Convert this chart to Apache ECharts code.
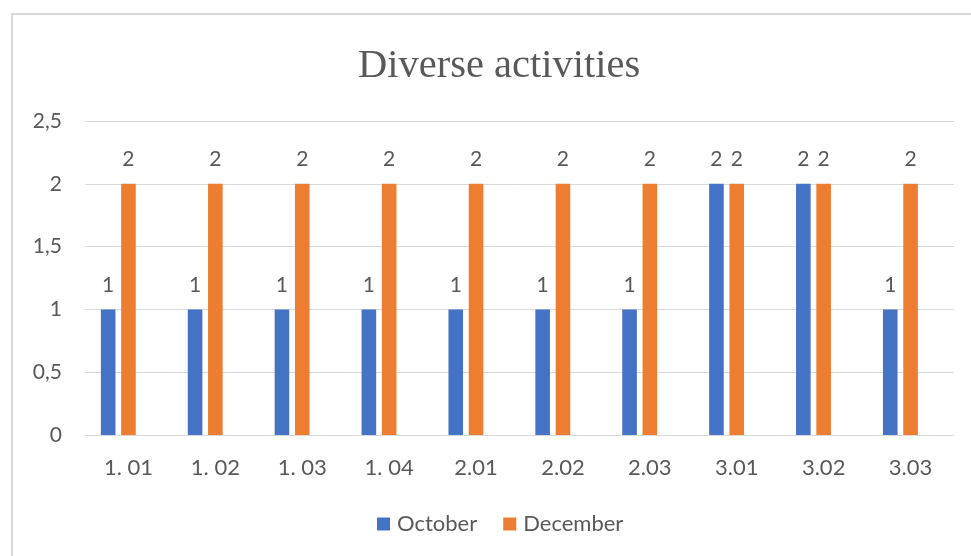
<!DOCTYPE html>
<html>
<head>
<meta charset="utf-8">
<script src="https://cdn.jsdelivr.net/npm/echarts@6/dist/echarts.min.js"></script>
<style>
html,body{margin:0;padding:0;background:#fff;}
#chart{width:971px;height:556px;}
</style>
</head>
<body>
<div id="chart"></div>
<script>
const categories = ["1. 01", "1. 02", "1. 03", "1. 04", "2.01", "2.02", "2.03", "3.01", "3.02", "3.03"];
const october = [1, 1, 1, 1, 1, 1, 1, 2, 2, 1];
const december = [2, 2, 2, 2, 2, 2, 2, 2, 2, 2];
const hiddenSeries = ["-", "-", "-", "-", "-", "-", "-", "-", "-", "-"];
const seriesNames = ["October", "December"];
const yTicks = [0, 0.5, 1, 1.5, 2, 2.5];

const textColor = "#595959";
const sans = "Lato";
const chart = echarts.init(document.getElementById("chart"));

const labelCfg = {
  show: true,
  position: "top",
  distance: 14,
  color: textColor,
  fontFamily: sans,
  fontSize: 21
};

chart.setOption({
  animation: false,
  backgroundColor: "#ffffff",
  graphic: [{
    type: "rect",
    silent: true,
    shape: { x: 12, y: 14, width: 1000, height: 600 },
    style: { fill: "none", stroke: "#d9d9d9", lineWidth: 2 }
  }],
  title: {
    text: "Diverse activities",
    left: 353,
    top: 41,
    textStyle: {
      fontFamily: "Liberation Serif",
      fontWeight: "normal",
      fontSize: 40.5,
      color: textColor
    }
  },
  legend: {
    data: seriesNames,
    bottom: 16,
    left: 372,
    itemWidth: 13,
    itemHeight: 13,
    itemGap: 26,
    icon: "rect",
    textStyle: { color: textColor, fontFamily: sans, fontSize: 22, padding: [0, 0, 0, 2] }
  },
  grid: { left: 85, right: 17, top: 121, bottom: 121 },
  xAxis: {
    type: "category",
    data: categories,
    axisLine: { show: true, lineStyle: { color: "#d9d9d9", width: 1 } },
    axisTick: { show: false },
    axisLabel: { color: textColor, fontFamily: sans, fontSize: 22, margin: 22 }
  },
  yAxis: {
    type: "value",
    min: yTicks[0],
    max: yTicks[yTicks.length - 1],
    interval: yTicks[1] - yTicks[0],
    axisLine: { show: false },
    axisTick: { show: false },
    splitLine: { lineStyle: { color: "#d9d9d9", width: 1 } },
    axisLabel: {
      color: textColor, fontFamily: sans, fontSize: 21, margin: 23,
      formatter: v => String(v).replace(".", ",")
    }
  },
  series: [
    { name: seriesNames[0], type: "bar", data: october, barWidth: 14.6, barGap: "39%",
      itemStyle: { color: "#4472C4" }, label: labelCfg },
    { name: seriesNames[1], type: "bar", data: december, barWidth: 14.6, barGap: "39%",
      itemStyle: { color: "#ED7D31" }, label: labelCfg },
    { name: "", type: "bar", data: hiddenSeries, barWidth: 14.6, barGap: "39%",
      itemStyle: { color: "#A5A5A5" } }
  ]
});
</script>
</body>
</html>
